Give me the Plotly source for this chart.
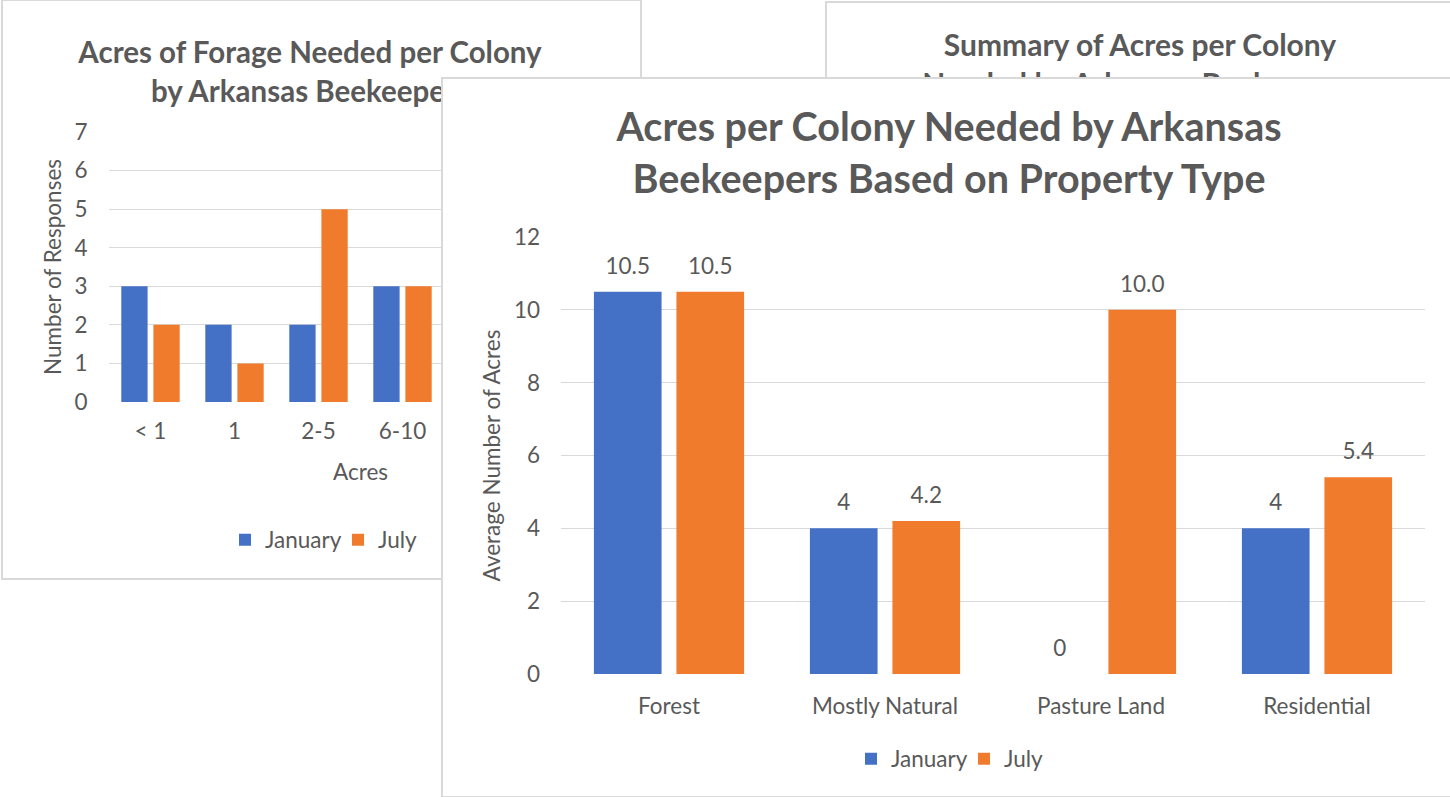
import plotly.graph_objects as go

W, H = 1450, 797

# ---------------- data ----------------
series_names = ["January", "July"]

front_categories = ["Forest", "Mostly Natural", "Pasture Land", "Residential"]
front_january = [10.5, 4, 0, 4]
front_july = [10.5, 4.2, 10.0, 5.4]
front_january_labels = ["10.5", "4", "0", "4"]
front_july_labels = ["10.5", "4.2", "10.0", "5.4"]
front_y_ticks = [0, 2, 4, 6, 8, 10, 12]

back_categories = ["< 1", "1", "2-5", "6-10"]
back_january = [3, 2, 2, 3]
back_july = [2, 1, 5, 3]
back_y_ticks = [0, 1, 2, 3, 4, 5, 6, 7]

front_title = "Acres per Colony Needed by Arkansas<br>Beekeepers Based on Property Type"
back_left_title = "Acres of Forage Needed per Colony<br>by Arkansas Beekeepers"
back_right_title = "Summary of Acres per Colony<br>Needed by Arkansas Beekeepers"

# ---------------- style ----------------
FONT = "Lato, Carlito, Calibri, sans-serif"
TXT = "#595959"
GRID = "#D9D9D9"
BORDER = "#D9D9D9"
BLUE = "#4471C6"
ORANGE = "#F17B2C"
TICK = 22.5
GAP = 0.236


def dx(a, b):
    return [a / W, min(b / W, 1.0)]


def dy(top, bottom):
    return [max(1 - bottom / H, 0.0), 1 - top / H]


frame = dict(showgrid=False, zeroline=False, showticklabels=False, ticks="",
             showline=True, linecolor=BORDER, linewidth=1.5, fixedrange=True,
             automargin=False)

fig = go.Figure()

# ---- back-left panel frame (subplot 1) with its title ----
fig.add_trace(go.Scatter(
    x=[310], y=[75], mode="text", text=[back_left_title],
    textposition="middle center",
    textfont=dict(family=FONT, size=29.5, color=TXT, weight="bold"),
    xaxis="x", yaxis="y", showlegend=False, hoverinfo="skip"))

# ---- back-left chart (subplot 2) ----
for name, vals, col in [(series_names[0], back_january, BLUE),
                        (series_names[1], back_july, ORANGE)]:
    fig.add_trace(go.Bar(
        x=back_categories, y=vals, name=name, marker=dict(color=col),
        xaxis="x2", yaxis="y2", legend="legend2"))

# ---- back-right panel frame (subplot 3) with its title ----
fig.add_trace(go.Scatter(
    x=[1140], y=[67.5], mode="text", text=[back_right_title],
    textposition="middle center",
    textfont=dict(family=FONT, size=30, color=TXT, weight="bold"),
    xaxis="x3", yaxis="y3", showlegend=False, hoverinfo="skip"))

# ---- front panel cover (subplot 4) with its title ----
fig.add_trace(go.Scatter(
    x=[949], y=[157], mode="text", text=[front_title],
    textposition="middle center",
    textfont=dict(family=FONT, size=39.5, color=TXT, weight="bold"),
    xaxis="x4", yaxis="y4", showlegend=False, hoverinfo="skip"))

# ---- front chart (subplot 5) ----
for name, vals, col in [(series_names[0], front_january, BLUE),
                        (series_names[1], front_july, ORANGE)]:
    fig.add_trace(go.Bar(
        x=front_categories, y=vals, name=name, marker=dict(color=col),
        xaxis="x5", yaxis="y5", legend="legend"))

# data labels, grouped to sit over their bars
for name, vals, labels in [(series_names[0], front_january, front_january_labels),
                           (series_names[1], front_july, front_july_labels)]:
    fig.add_trace(go.Scatter(
        x=front_categories, y=vals, text=labels, mode="markers+text",
        marker=dict(size=18, opacity=0), textposition="top center",
        textfont=dict(family=FONT, size=TICK, color=TXT),
        cliponaxis=False, xaxis="x5", yaxis="y5", showlegend=False,
        hoverinfo="skip", name=name + " labels"))

legend_style = dict(orientation="h", xanchor="center", yanchor="middle",
                    font=dict(size=TICK, color=TXT), entrywidth=68,
                    bgcolor="rgba(0,0,0,0)", itemclick=False, itemdoubleclick=False)

fig.update_layout(
    template="none",
    width=W, height=H,
    margin=dict(l=0, r=0, t=0, b=0, autoexpand=False),
    paper_bgcolor="white", plot_bgcolor="white",
    font=dict(family=FONT, size=TICK, color=TXT),
    barmode="group", bargap=GAP, bargroupgap=0.18,
    scattermode="group", scattergap=GAP,
    # subplot 1: back-left frame
    xaxis=dict(frame, domain=dx(3, 640), range=[3, 640], mirror=True, anchor="y"),
    yaxis=dict(frame, domain=dy(1, 578), range=[578, 1], mirror=True, anchor="x"),
    # subplot 2: back-left chart
    xaxis2=dict(domain=dx(108.5, 612.5), anchor="y2", type="category",
                range=[-0.5, 5.5], showgrid=False, zeroline=False, showline=False,
                ticks="", ticklabelstandoff=13, fixedrange=True, automargin=False,
                tickfont=dict(size=TICK, color=TXT),
                title=dict(text="Acres", standoff=21, font=dict(size=TICK, color=TXT))),
    yaxis2=dict(domain=dy(132, 402), anchor="x2", range=[0, 7], tickvals=back_y_ticks,
                showgrid=True, gridcolor=GRID, gridwidth=1.4, zeroline=False,
                showline=False, ticks="", ticklabelstandoff=20, fixedrange=True,
                automargin=False, tickfont=dict(size=TICK, color=TXT),
                title=dict(text="Number of Responses", standoff=6,
                           font=dict(size=TICK, color=TXT))),
    # subplot 3: back-right frame
    xaxis3=dict(frame, domain=dx(827, 1450), range=[827, 1450], side="top", anchor="y3"),
    yaxis3=dict(frame, domain=dy(3, 790), range=[790, 3], anchor="x3"),
    # subplot 4: front frame (covers what lies behind)
    xaxis4=dict(frame, domain=dx(443, 1450), range=[443, 1450], mirror=True, anchor="y4"),
    yaxis4=dict(frame, domain=dy(79, 796), range=[796, 79], anchor="x4"),
    # subplot 5: front chart
    xaxis5=dict(domain=dx(561, 1425), anchor="y5", type="category",
                showgrid=False, zeroline=False, showline=False, ticks="",
                ticklabelstandoff=16, fixedrange=True, automargin=False,
                tickfont=dict(size=TICK, color=TXT)),
    yaxis5=dict(domain=dy(237, 674), anchor="x5", range=[0, 12], tickvals=front_y_ticks,
                showgrid=True, gridcolor=GRID, gridwidth=1.4, zeroline=False,
                showline=False, ticks="", ticklabelstandoff=20, fixedrange=True,
                automargin=False, tickfont=dict(size=TICK, color=TXT),
                title=dict(text="Average Number of Acres", standoff=7,
                           font=dict(size=TICK, color=TXT))),
    legend=dict(legend_style, x=964 / W, y=1 - 759 / H),
    legend2=dict(legend_style, x=338 / W, y=1 - 540 / H),
    showlegend=True,
)

fig.write_html(
    "out.html",
    config={"displayModeBar": False},
    post_script="document.body.style.margin='0px';document.body.style.padding='0px';"
                "document.documentElement.style.overflow='hidden';",
)
